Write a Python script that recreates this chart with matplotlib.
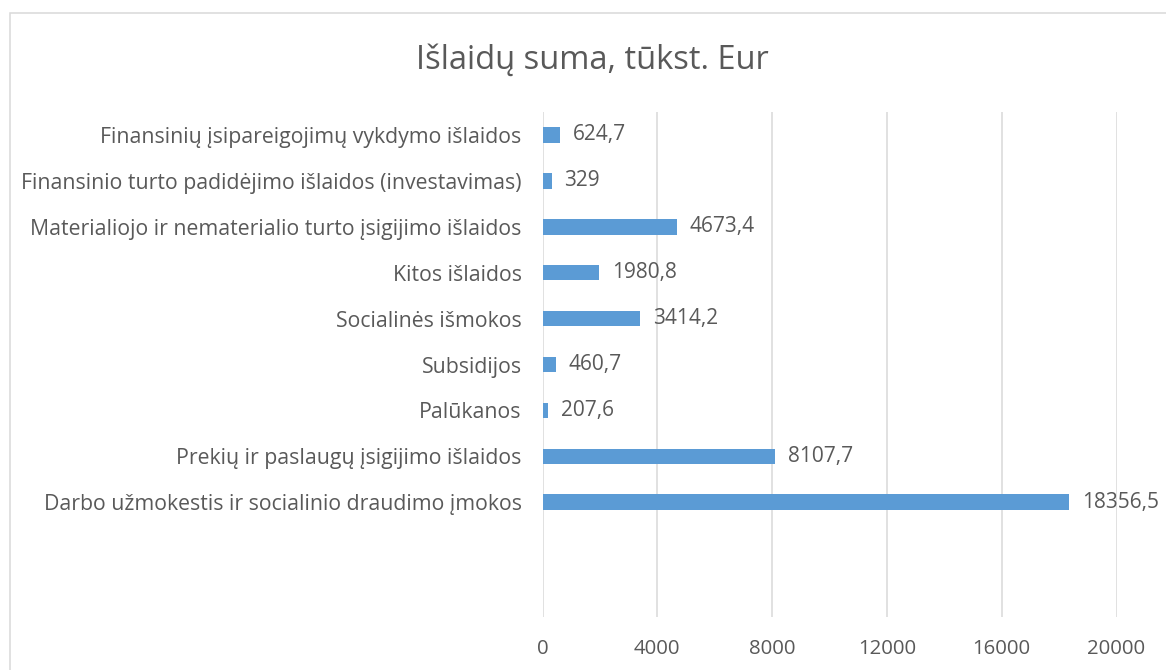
import matplotlib.pyplot as plt
from matplotlib.patches import Rectangle

# kategorijos nuo apačios į viršų
kategorijos = ["Darbo užmokestis ir socialinio draudimo įmokos",
               "Prekių ir paslaugų įsigijimo išlaidos",
               "Palūkanos",
               "Subsidijos",
               "Socialinės išmokos",
               "Kitos išlaidos",
               "Materialiojo ir nematerialio turto įsigijimo išlaidos",
               "Finansinio turto padidėjimo išlaidos (investavimas)",
               "Finansinių įsipareigojimų vykdymo išlaidos"]
sumos = [18356.5, 8107.7, 207.6, 460.7, 3414.2, 1980.8, 4673.4, 329, 624.7]
x_ticks = [0, 4000, 8000, 12000, 16000, 20000]

plt.rcParams['font.family'] = ['Open Sans', 'DejaVu Sans']
tekstas = '#595959'

fig = plt.figure(figsize=(11.66, 6.7), dpi=100)
ax = fig.add_axes([542.5 / 1166, 53 / 670, 574 / 1166, 505 / 670])

y = list(range(len(kategorijos)))
ax.barh(y, sumos, height=0.34, color='#5B9BD5', zorder=3)
for yi, v in zip(y, sumos):
    ax.annotate(f"{v:g}".replace('.', ','), (v, yi), xytext=(9, 0),
                textcoords='offset points', va='center', ha='left',
                fontsize=15, color=tekstas)

ax.set_xlim(0, 20000)
ax.set_ylim(-2.5, 8.5)
ax.set_xticks(x_ticks)
ax.set_yticks(y)
ax.set_yticklabels(kategorijos)
ax.tick_params(length=0, labelcolor=tekstas)
ax.tick_params(axis='y', pad=15, labelsize=15.3)
ax.tick_params(axis='x', pad=16, labelsize=14.7)
ax.grid(axis='x', color='#D9D9D9', linewidth=1.1, zorder=0)
for s in ax.spines.values():
    s.set_visible(False)

fig.text(592 / 1166, 1 - 60 / 670, "Išlaidų suma, tūkst. Eur",
         ha='center', va='center', fontsize=23.5, color=tekstas)
fig.patches.append(Rectangle((9.5 / 1166, -0.1), 1.2, 1 - 13 / 670 + 0.1,
                             transform=fig.transFigure, fill=False,
                             edgecolor='#D9D9D9', linewidth=1.1))

fig.savefig('out.png', dpi=100)
